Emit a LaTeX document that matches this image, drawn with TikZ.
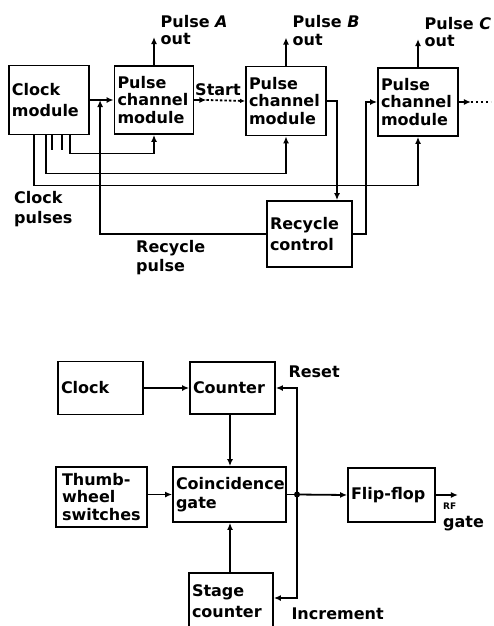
\documentclass[tikz,border=0pt]{standalone}
\usepackage{fontspec}
\setmainfont{DejaVu Sans}
\usetikzlibrary{arrows.meta,positioning,calc}
\tikzset{
  block/.style={draw, line width=1.8pt, align=left, inner xsep=3pt, inner ysep=0pt},
  wire/.style={line width=1.8pt},
  link/.style={wire, -{Latex[length=7pt,width=6pt]}},
  lbl/.style={align=left, inner sep=0pt, anchor=north west},
}
\begin{document}
\begin{tikzpicture}[x=1pt, y=-1pt, font=\bfseries\fontsize{16}{17.5}\selectfont]
  \useasboundingbox (0,0) rectangle (493,626);

  % pulse channel scheme
  \node[block, text width=74, minimum height=69] (clk) at (49,100) {Clock\\[4pt]module};
  \node[block, text width=73, minimum height=68] (pcmA) at (154,100) {Pulse\\channel\\module};
  \node[block, text width=74, minimum height=69] (pcmB) at (286,101) {Pulse\\channel\\module};
  \node[block, text width=74, minimum height=68] (pcmC) at (418,102) {Pulse\\channel\\module};
  \node[block, text width=79, minimum height=66] (rcy) at (309.5,234) {Recycle\\[4pt]control};

  \foreach \m in {A,B,C} {
    \draw[link] (pcm\m.north) -- ++(0,-28) coordinate (out\m);
    \node[lbl] (lbl\m) at ([xshift=6.5,yshift=22]out\m) {Pulse \textit{\m}\\out};
  }

  \draw[link] (clk.east) -- (clk.east -| pcmA.west);
  \draw[link] (pcmA.east) -- ++(12,0) coordinate (st);
  \draw[wire, dash pattern=on 2.5pt off 2pt, -{Latex[length=5pt,width=4.5pt]}] (st) -- (pcmB.west);
  \node[anchor=base] (start) at (218,95) {Start};

  % clock pulses
  \draw[link] ([xshift=21]clk.south) -- ++(0,18) -| (pcmA.south);
  \draw[link] ([xshift=-3]clk.south) -- ++(0,38) -| (pcmB.south);
  \draw[link] ([xshift=-15]clk.south) -- ++(0,50) -| (pcmC.south);
  \foreach \dx in {3,13}
    \draw[wire] ([xshift=\dx]clk.south) -- ++(0,15);
  \node[lbl] (clkp) at (14,191) {Clock\\[3pt]pulses};

  % recycle
  \draw[link] (rcy.west) -| ($(clk.east)!.43!(pcmA.west)$);
  \draw[link] (pcmB.east) -| ([xshift=27.5]rcy.north);
  \draw[link] (rcy.east) -- ++(13,0) |- (pcmC.west);
  \draw[link] (pcmC.east) -- ++(12,0) coordinate (cnext);
  \draw[wire, dash pattern=on 2.5pt off 2.5pt] (cnext) -- ++(20,0);
  \node[lbl] (rcyp) at (136,240) {Recycle\\[2pt]pulse};

  % counter scheme
  \node[block, text width=79, minimum height=53] (clock) at (100.5,388) {Clock};
  \node[block, text width=79, minimum height=52] (cnt) at (232.5,388) {Counter};
  \node[block, inner xsep=6pt, text width=79, minimum height=60] (thumb) at (101.5,497) {Thumb-\\wheel\\switches};
  \node[block, text width=107, minimum height=55] (coin) at (229.5,494.5) {Coincidence\\[2pt]gate};
  \node[block, text width=78, minimum height=56] (stage) at (231,601) {Stage\\[4pt]counter};
  \node[block, text width=81, minimum height=54] (ff) at (391.5,495) {Flip-flop};

  \coordinate (vx) at (230,0);
  \coordinate (jn) at (297,494.5);
  \draw[link] (clock) -- (cnt);
  \draw[link] (cnt.south -| vx) -- (coin.north -| vx);
  \draw[link] (stage.north -| vx) -- (coin.south -| vx);
  \draw[link] (thumb.east |- coin.west) -- (coin.west);
  \draw[wire] (coin.east) -- (jn);
  \fill (jn) circle (3);
  \draw[link] (jn) -- (ff.west);
  \draw[link] (jn) |- (cnt.east);
  \draw[link] (jn) |- ([yshift=3]stage.east);
  \draw[link] (ff.east) -- ++(22,0) coordinate (rf);

  \node[anchor=base west] (reset) at (285,377) {Reset};
  \node[anchor=base west] (incr) at (288,619) {Increment};
  \node[anchor=west, inner sep=0pt, font=\bfseries\fontsize{9}{10}\selectfont] (rfl) at (443,506) {RF};
  \node[anchor=base west, inner sep=0pt] (gate) at (443,527) {gate};
\end{tikzpicture}
\end{document}
